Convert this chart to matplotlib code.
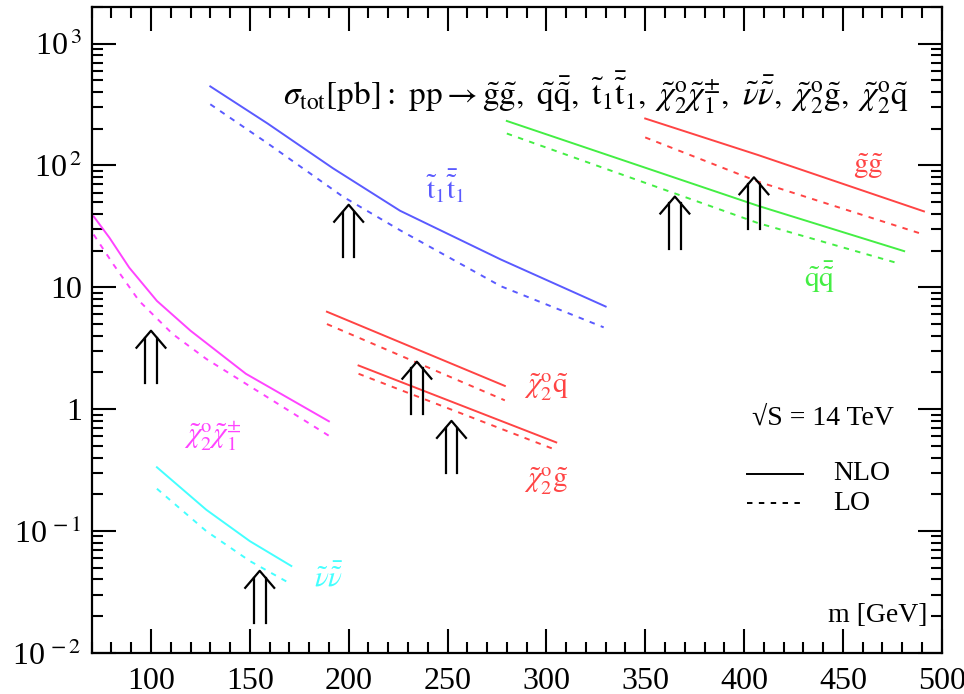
import matplotlib
matplotlib.use('Agg')

import matplotlib.pyplot as plt
from matplotlib.lines import Line2D
from matplotlib.ticker import LogLocator, MultipleLocator, NullFormatter
from matplotlib.transforms import ScaledTranslation

plt.rcParams['font.family'] = ['Liberation Serif', 'DejaVu Serif']
plt.rcParams['mathtext.fontset'] = 'stix'

# cross sections (pb), NLO solid / LO dashed
m_stop = [130, 159, 192, 226, 277, 330]
nlo_stop = [446, 221, 95, 42.5, 16.9, 6.95]
m_stop_lo = [130, 159, 197, 226, 277, 329]
lo_stop = [318, 152, 55.6, 29.4, 10.2, 4.69]

m_sq = [280, 407, 481]
nlo_sq = [232, 46.7, 19.8]
m_sq_lo = [280, 407, 477]
lo_sq = [183, 33.7, 15.9]

m_gl = [350, 407, 491]
nlo_gl = [243, 122, 42]
m_gl_lo = [350, 407, 490]
lo_gl = [170, 73.8, 27.4]

m_c2c1 = [71, 79, 89, 103, 120, 148, 190]
nlo_c2c1 = [38.2, 25.5, 14.5, 7.73, 4.40, 1.95, 0.794]
m_c2c1_lo = [71, 81, 94, 111, 128, 190]
lo_c2c1 = [27.1, 15.4, 7.73, 4.13, 2.58, 0.604]

m_c2q = [189, 279]
nlo_c2q = [6.3, 1.55]
lo_c2q = [4.99, 1.18]

m_c2g = [205, 305]
nlo_c2g = [2.28, 0.533]
lo_c2g = [1.95, 0.461]

m_snu = [103, 128, 150, 171]
nlo_snu = [0.333, 0.149, 0.0824, 0.0515]
lo_snu = [0.222, 0.0995, 0.0566, 0.0365]

# double arrows (mass, sigma at the tip)
arrow_m = [100, 155, 200, 234.5, 252, 365, 405]
arrow_s = [4.4, 0.047, 47.6, 2.45, 0.80, 55.6, 80]

blue = '#5a5aff'
green = '#44ee44'
red = '#ff4444'
magenta = '#ff44ff'
cyan = '#44ffff'

curves = [
    (m_stop, nlo_stop, m_stop_lo, lo_stop, blue),
    (m_sq, nlo_sq, m_sq_lo, lo_sq, green),
    (m_gl, nlo_gl, m_gl_lo, lo_gl, red),
    (m_c2c1, nlo_c2c1, m_c2c1_lo, lo_c2c1, magenta),
    (m_c2q, nlo_c2q, m_c2q, lo_c2q, red),
    (m_c2g, nlo_c2g, m_c2g, lo_c2g, red),
    (m_snu, nlo_snu, m_snu, lo_snu, cyan),
]

labels = [
    (249, 66.7, r'$\tilde{\mathrm{t}}_1\bar{\tilde{\mathrm{t}}}_1$', blue),
    (463, 98, r'$\tilde{\mathrm{g}}\tilde{\mathrm{g}}$', red),
    (438, 12.1, r'$\tilde{\mathrm{q}}\bar{\tilde{\mathrm{q}}}$', green),
    (131, 0.597, r'$\tilde{\chi}^{\mathrm{o}}_2\tilde{\chi}^{\pm}_1$', magenta),
    (300, 1.52, r'$\tilde{\chi}^{\mathrm{o}}_2\tilde{\mathrm{q}}$', red),
    (300, 0.255, r'$\tilde{\chi}^{\mathrm{o}}_2\tilde{\mathrm{g}}$', red),
    (190, 0.0413, r'$\tilde{\nu}\bar{\tilde{\nu}}$', cyan),
]

ytick_vals = [1e-2, 1e-1, 1, 10, 1e2, 1e3]
ytick_text = [r'10$^{\,-2}$', r'10$^{\,-1}$', r'1$\enspace$', '10',
              r'10$^{\,2}$', r'10$^{\,3}$']

fig = plt.figure(figsize=(9.64, 6.94), dpi=100)
ax = fig.add_axes([0.0951, 0.0595, 0.8818, 0.9304])

dash = (0, (2.8, 3.3))
for m_n, s_n, m_l, s_l, col in curves:
    ax.plot(m_n, s_n, color=col, lw=1.4)
    ax.plot(m_l, s_l, color=col, lw=1.4, linestyle=dash)

for x, y, txt, col in labels:
    ax.text(x, y, txt, color=col, fontsize=21, ha='center', va='center')


def double_arrow(x, y):
    # shape in inches relative to the tip
    tr = fig.dpi_scale_trans + ScaledTranslation(x, y, ax.transData)
    h, sep, w, ch = 0.52, 0.058, 0.145, 0.17
    yc = -ch * sep / w
    for sx in (-sep, sep):
        ax.add_artist(Line2D([sx, sx], [-h, yc], transform=tr,
                             color='black', lw=1.6, clip_on=False))
    ax.add_artist(Line2D([-w, 0, w], [-ch, 0, -ch], transform=tr,
                         color='black', lw=1.6, clip_on=False))


for x, y in zip(arrow_m, arrow_s):
    double_arrow(x, y)

ax.set_yscale('log')
ax.set_xlim(70, 500)
ax.set_ylim(1e-2, 2000)

ax.xaxis.set_major_locator(MultipleLocator(50))
ax.xaxis.set_minor_locator(MultipleLocator(10))
ax.set_yticks(ytick_vals)
ax.set_yticklabels(ytick_text)
ax.yaxis.set_minor_locator(LogLocator(base=10, subs=range(2, 10)))
ax.yaxis.set_minor_formatter(NullFormatter())

ax.tick_params(which='both', direction='in', top=True, right=True,
               labelsize=23, width=1.5)
ax.tick_params(which='major', length=17)
ax.tick_params(which='minor', length=8)
ax.tick_params(axis='x', pad=10)
ax.tick_params(axis='y', pad=7)
for sp in ax.spines.values():
    sp.set_linewidth(1.6)

title = (r'$\sigma_{\mathrm{tot}}\mathrm{[pb]:\ pp}\rightarrow'
         r'\tilde{\mathrm{g}}\tilde{\mathrm{g}},\ '
         r'\tilde{\mathrm{q}}\bar{\tilde{\mathrm{q}}},\ '
         r'\tilde{\mathrm{t}}_1\bar{\tilde{\mathrm{t}}}_1,\ '
         r'\tilde{\chi}^{\mathrm{o}}_2\tilde{\chi}^{\pm}_1,\ '
         r'\tilde{\nu}\bar{\tilde{\nu}},\ '
         r'\tilde{\chi}^{\mathrm{o}}_2\tilde{\mathrm{g}},\ '
         r'\tilde{\chi}^{\mathrm{o}}_2\tilde{\mathrm{q}}$')
ax.text(0.225, 0.868, title, transform=ax.transAxes, fontsize=24,
        ha='left', va='center')

ax.text(0.860, 0.3635, '√S = 14 TeV', transform=ax.transAxes, fontsize=20,
        ha='center', va='center')
ax.add_artist(Line2D([0.771, 0.837], [0.2768, 0.2768], transform=ax.transAxes,
                     color='black', lw=1.4))
ax.add_artist(Line2D([0.771, 0.837], [0.2318, 0.2318], transform=ax.transAxes,
                     color='black', lw=1.4, linestyle=dash))
ax.text(0.872, 0.2768, 'NLO', transform=ax.transAxes, fontsize=20,
        ha='left', va='center')
ax.text(0.872, 0.2318, 'LO', transform=ax.transAxes, fontsize=20,
        ha='left', va='center')
ax.text(0.925, 0.058, 'm [GeV]', transform=ax.transAxes, fontsize=20,
        ha='center', va='center')

fig.savefig('out.png', dpi=100)
